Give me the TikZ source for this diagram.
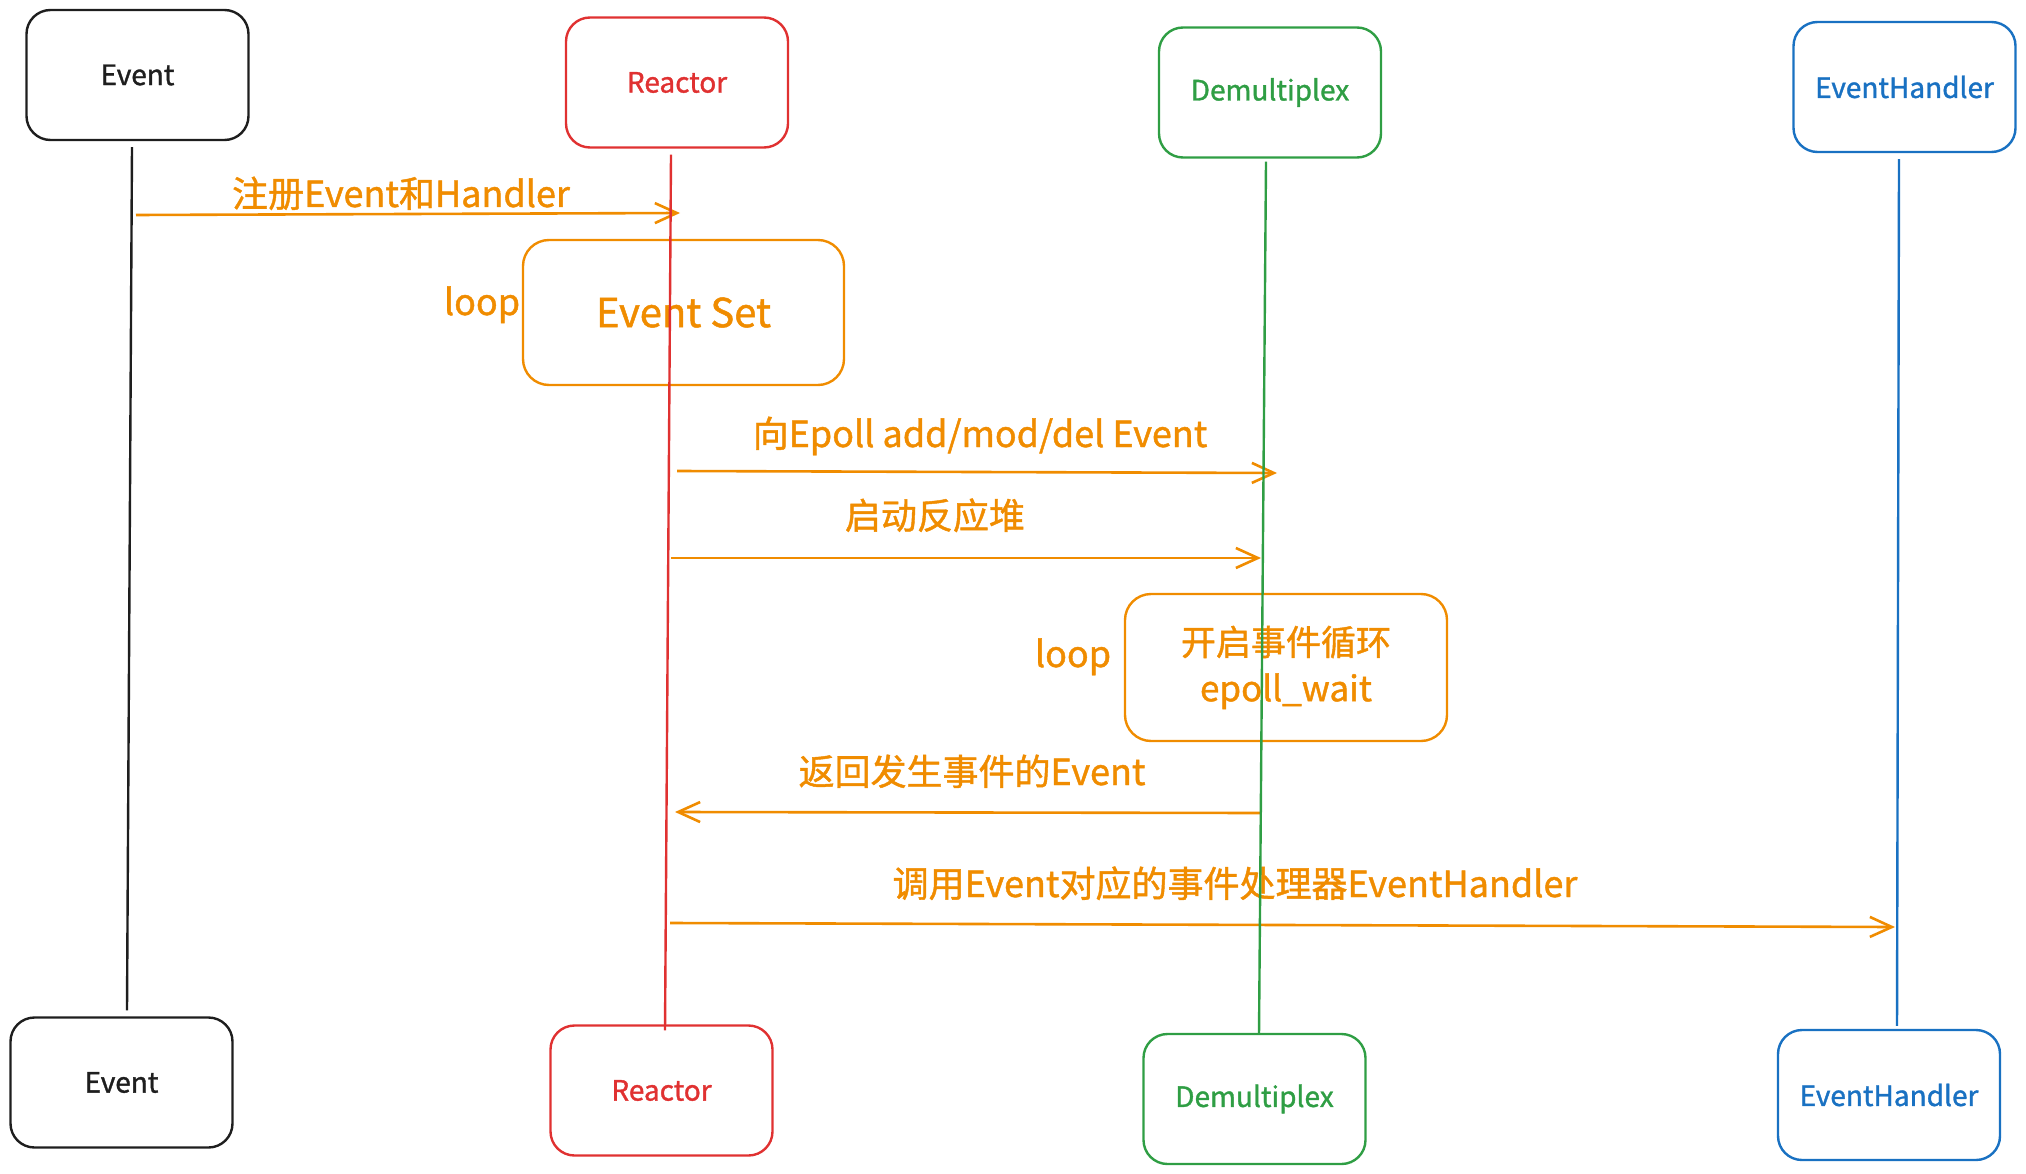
\documentclass[tikz,border=0pt]{standalone}
\usepackage{fontspec}
\setmainfont{Noto Sans CJK SC}[FakeBold=1.2]
\usetikzlibrary{arrows.meta}

\definecolor{inkX}{HTML}{1E1E1E}
\definecolor{redX}{HTML}{E03131}
\definecolor{greenX}{HTML}{2F9E44}
\definecolor{blueX}{HTML}{1971C2}
\definecolor{orangeX}{HTML}{F08C00}

\tikzset{
  actor/.style={draw, rounded corners=24pt, line width=2.4pt,
    minimum width=222pt, minimum height=130pt, inner sep=0pt,
    font=\fontsize{28}{32}\selectfont},
  lifeline/.style={line width=2.4pt},
  loopbox/.style={draw=orangeX, text=orangeX, rounded corners=26pt, line width=2.4pt,
    inner sep=0pt, align=center},
  msgtext/.style={text=orangeX, anchor=base, inner sep=0pt,
    font=\fontsize{36}{40}\selectfont},
  msg/.style={draw=orangeX, line width=2.6pt,
    -{Straight Barb[length=22pt,width=20pt,line width=2.6pt]}},
}

\begin{document}
\begin{tikzpicture}[x=1pt,y=-1pt]
\useasboundingbox (0,0) rectangle (2026,1174);

% participants, top row
\node[actor, draw=inkX,   text=inkX]   (evT) at (137.5,75)  {Event};
\node[actor, draw=redX,   text=redX]   (reT) at (677,82.5)  {Reactor};
\node[actor, draw=greenX, text=greenX] (deT) at (1270,92.5) {Demultiplex};
\node[actor, draw=blueX,  text=blueX]  (ehT) at (1904.5,87) {EventHandler};

% participants, bottom row
\node[actor, draw=inkX,   text=inkX]   (evB) at (121.5,1082.5) {Event};
\node[actor, draw=redX,   text=redX]   (reB) at (661.5,1090.5) {Reactor};
\node[actor, draw=greenX, text=greenX] (deB) at (1254.5,1099)  {Demultiplex};
\node[actor, draw=blueX,  text=blueX]  (ehB) at (1889,1095)    {EventHandler};

% loop frames
\node[loopbox, minimum width=321pt, minimum height=145pt,
      font=\fontsize{40}{44}\selectfont] (setbox) at (683.5,312.5) {Event Set};
\node[msgtext] (loop1) at (482,315) {loop};

\node[loopbox, minimum width=322pt, minimum height=147pt,
      font=\fontsize{35}{46}\selectfont] (waitbox) at (1286,667.5) {开启事件循环\\epoll\_wait};
\node[msgtext] (loop2) at (1073,667) {loop};

% message end points on the lifelines
\coordinate (m1s) at (136,215);  \coordinate (m1e) at (680,213);
\coordinate (m2s) at (677,471);  \coordinate (m2e) at (1277,473);
\coordinate (m3s) at (671,558);  \coordinate (m3e) at (1261,558);
\coordinate (m4s) at (1261,813); \coordinate (m4e) at (675,812);
\coordinate (m5s) at (670,923);  \coordinate (m5e) at (1895,927);

% messages
\draw[msg] (m1s) -- (m1e);
\node[msgtext] (t1) at (401,207) {注册Event和Handler};
\draw[msg] (m2s) -- (m2e);
\node[msgtext] (t2) at (980,447) {向Epoll add/mod/del Event};
\draw[msg] (m3s) -- (m3e);
\node[msgtext] (t3) at (935,529) {启动反应堆};
\draw[msg] (m4s) -- (m4e);
\node[msgtext] (t4) at (972,785) {返回发生事件的Event};
\draw[msg] (m5s) -- (m5e);
\node[msgtext] (t5) at (1235,897) {调用Event对应的事件处理器EventHandler};

% lifelines
\draw[lifeline, inkX]   ([shift={(-5.5,6)}]evT.south) -- ([shift={(5.5,-6)}]evB.north);
\draw[lifeline, redX]   ([shift={(-6,6)}]reT.south)   -- ([shift={(3.5,6)}]reB.north);
\draw[lifeline, greenX] ([shift={(-4,3)}]deT.south)   -- ([shift={(4.5,2)}]deB.north);
\draw[lifeline, blueX]  ([shift={(-5.5,6)}]ehT.south) -- ([shift={(8,-3)}]ehB.north);
\end{tikzpicture}
\end{document}
